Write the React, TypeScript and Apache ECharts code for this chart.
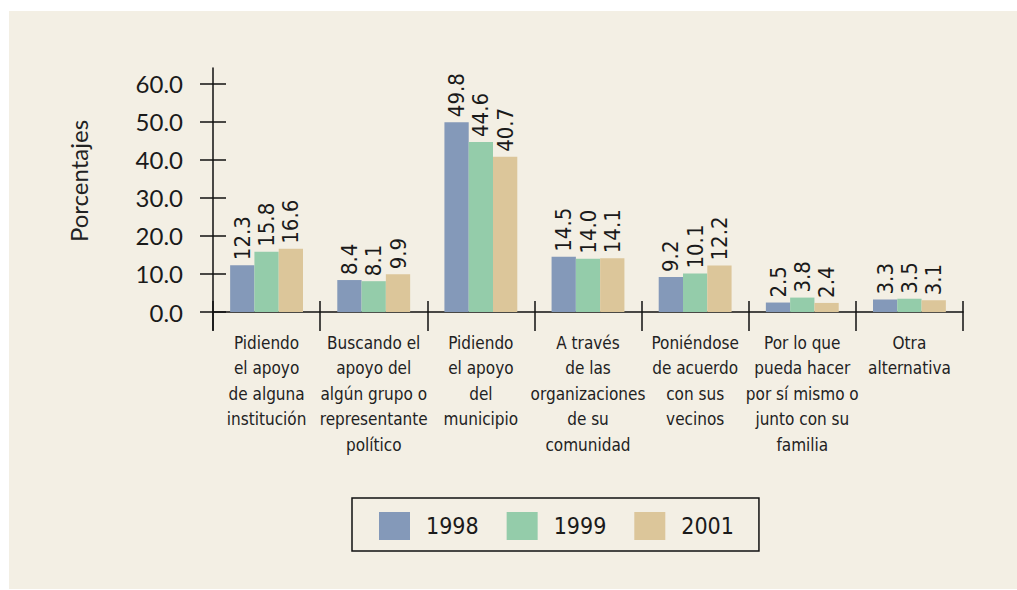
import React, { useEffect, useRef } from "react";
import * as echarts from "echarts";

const categories = [
  "Pidiendo\nel apoyo\nde alguna\ninstitución",
  "Buscando el\napoyo del\nalgún grupo o\nrepresentante\npolítico",
  "Pidiendo\nel apoyo\ndel\nmunicipio",
  "A través\nde las\norganizaciones\nde su\ncomunidad",
  "Poniéndose\nde acuerdo\ncon sus\nvecinos",
  "Por lo que\npueda hacer\npor sí mismo o\njunto con su\nfamilia",
  "Otra\nalternativa",
];
const seriesNames = ["1998", "1999", "2001"];
const values1998 = [12.3, 8.4, 49.8, 14.5, 9.2, 2.5, 3.3];
const values1999 = [15.8, 8.1, 44.6, 14.0, 10.1, 3.8, 3.5];
const values2001 = [16.6, 9.9, 40.7, 14.1, 12.2, 2.4, 3.1];
const yTicks = [0, 10, 20, 30, 40, 50, 60];
const colors = ["#8499b9", "#94ccaa", "#dcc69a"];

const LABEL_FONT = "'Liberation Sans Narrow', 'DejaVu Sans Condensed', Lato, sans-serif";
const NUM_FONT = "'DejaVu Sans Condensed', 'DejaVu Sans', sans-serif";
const AXIS_FONT = "Lato, sans-serif";

export default function App() {
  const ref = useRef<HTMLDivElement>(null);
  useEffect(() => {
    if (!ref.current) return;
    const chart = echarts.init(ref.current, null, { renderer: "svg" });
    const all = [values1998, values1999, values2001];
    chart.setOption({
      animation: false,
      backgroundColor: "#ffffff",
      graphic: [
        {
          type: "rect",
          z: -10,
          silent: true,
          shape: { x: 9, y: 11, width: 1008, height: 578 },
          style: { fill: "#f3efe4" },
        },
      ],
      legend: {
        data: seriesNames,
        left: 352,
        top: 498,
        orient: "horizontal",
        icon: "rect",
        itemWidth: 31,
        itemHeight: 28,
        itemGap: 28,
        padding: [14, 25, 11, 27],
        borderColor: "#111",
        borderWidth: 1.5,
        textStyle: {
          fontFamily: NUM_FONT,
          fontSize: 23,
          color: "#1a1a1a",
          padding: [0, 0, 0, 11],
        },
      },
      grid: { left: 213, right: 54, top: 68, bottom: 260, containLabel: false },
      xAxis: [
        {
          type: "category",
          data: categories,
          axisLine: { onZero: true, lineStyle: { color: "#111", width: 1.5 } },
          axisTick: { show: true, length: 19, interval: 0, lineStyle: { color: "#111", width: 1.5 } },
          axisLabel: {
            interval: 0,
            margin: 0,
            fontFamily: LABEL_FONT,
            fontSize: 17,
            lineHeight: 25.5,
            color: "#222",
            align: "center",
            verticalAlign: "top",
          },
        },
        {
          type: "category",
          data: categories,
          position: "bottom",
          axisLine: { onZero: true, lineStyle: { color: "#111", opacity: 0 } },
          axisTick: { show: true, inside: true, length: 11, interval: 0, lineStyle: { color: "#111", width: 1.5 } },
          axisLabel: { show: false },
        },
      ],
      yAxis: [
        {
          type: "value",
          position: "left",
          min: -4.7,
          max: 64,
          name: "Porcentajes",
          nameLocation: "middle",
          nameGap: 123,
          nameTextStyle: {
            fontFamily: AXIS_FONT,
            fontSize: 24,
            color: "#222",
            padding: [0, 0, 0, 36],
          },
          axisLine: { show: true, lineStyle: { color: "#111", width: 1.5 } },
          axisTick: { show: true, length: 13, customValues: yTicks, lineStyle: { color: "#111", width: 1.5 } },
          axisLabel: {
            customValues: yTicks,
            margin: 30,
            fontFamily: AXIS_FONT,
            fontSize: 24,
            color: "#1a1a1a",
            formatter: (v: number) => v.toFixed(1),
          },
          splitLine: { show: false },
        },
        {
          type: "value",
          position: "left",
          offset: 0,
          min: -4.7,
          max: 64,
          axisLine: { show: false },
          axisTick: { show: true, inside: true, length: 13, customValues: yTicks, lineStyle: { color: "#111", width: 1.5 } },
          axisLabel: { show: false },
          splitLine: { show: false },
        },
      ],
      series: seriesNames.map((name, i) => ({
        name,
        type: "bar",
        xAxisIndex: 0,
        yAxisIndex: 0,
        data: all[i],
        barGap: "0%",
        barCategoryGap: "32%",
        itemStyle: { color: colors[i] },
        label: {
          show: true,
          position: "top",
          rotate: 90,
          align: "left",
          verticalAlign: "middle",
          distance: 5,
          fontFamily: NUM_FONT,
          fontSize: 22,
          color: "#1a1a1a",
          formatter: (p: any) => Number(p.value).toFixed(1),
        },
      })),
    });
    return () => chart.dispose();
  }, []);
  return (
    <div
      ref={ref}
      style={{ position: "absolute", left: 0, top: 0, width: 1017, height: 590 }}
    />
  );
}
